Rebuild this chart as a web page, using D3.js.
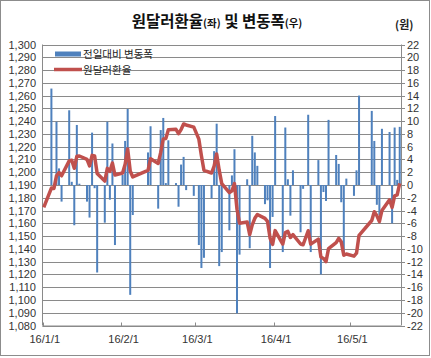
<!DOCTYPE html>
<html><head><meta charset="utf-8">
<script src="https://d3js.org/d3.v7.min.js"></script>
<style>
html,body{margin:0;padding:0;background:#fff;}
svg{display:block;font-family:"Noto Sans CJK KR","Noto Sans",sans-serif;}
.num{font-family:"Liberation Sans",Arial,sans-serif;}
</style></head>
<body><svg id="c" width="431" height="358"></svg>
<script>
const dates = ["2016-01-01","2016-01-04","2016-01-05","2016-01-06","2016-01-07","2016-01-08","2016-01-11","2016-01-12","2016-01-13","2016-01-14","2016-01-15","2016-01-18","2016-01-19","2016-01-20","2016-01-21","2016-01-22","2016-01-25","2016-01-26","2016-01-27","2016-01-28","2016-01-29","2016-02-01","2016-02-02","2016-02-03","2016-02-04","2016-02-05","2016-02-11","2016-02-12","2016-02-15","2016-02-16","2016-02-17","2016-02-18","2016-02-19","2016-02-22","2016-02-23","2016-02-24","2016-02-25","2016-02-26","2016-02-29","2016-03-02","2016-03-03","2016-03-04","2016-03-07","2016-03-08","2016-03-09","2016-03-10","2016-03-11","2016-03-14","2016-03-15","2016-03-16","2016-03-17","2016-03-18","2016-03-21","2016-03-22","2016-03-23","2016-03-24","2016-03-25","2016-03-28","2016-03-29","2016-03-30","2016-03-31","2016-04-01","2016-04-04","2016-04-05","2016-04-06","2016-04-07","2016-04-08","2016-04-11","2016-04-12","2016-04-14","2016-04-15","2016-04-18","2016-04-19","2016-04-20","2016-04-21","2016-04-22","2016-04-25","2016-04-26","2016-04-27","2016-04-28","2016-04-29","2016-05-02","2016-05-03","2016-05-04","2016-05-09","2016-05-10","2016-05-11","2016-05-12","2016-05-13","2016-05-16","2016-05-17","2016-05-18","2016-05-19","2016-05-20"];
const changes = [null,15.1,-0.3,9.9,2.6,-2.6,11.7,0.5,-6.3,9.4,0.2,-2.6,-5.1,8.2,-0.5,-13.7,-5.9,9.9,-2.3,6.5,-9.4,1.6,6.9,11.9,-17.2,-4.7,5.1,9.2,-3.7,8.6,10.5,0.3,7.0,0.3,-3.4,3.2,4.4,-0.8,-1.7,-9.4,-13.0,-11.4,-2.1,5.3,9.6,-12.7,-10.5,-7.1,1.5,5.6,-20.1,-10.9,0.9,-9.9,7.7,5.1,3.0,-3.0,-2.4,-13.0,-5.0,10.8,-10.5,9.0,0.9,-4.8,2.3,-7.4,-0.6,11.0,-10.5,3.9,-14.0,-1.1,-2.5,10.2,4.7,3.3,-2.7,-10.5,1.0,-1.7,2.3,14.0,11.6,6.9,-3.1,-4.7,8.8,8.3,-6.0,9.0,0.8,9.1];
const rates = [1172.5,1187.6,1187.3,1197.2,1199.8,1197.2,1208.9,1209.4,1203.1,1212.5,1212.7,1210.1,1205.0,1213.2,1212.7,1199.0,1193.1,1203.0,1200.7,1207.2,1197.8,1199.4,1206.3,1218.2,1201.0,1196.3,1201.4,1210.6,1206.9,1215.5,1226.0,1226.3,1233.3,1233.6,1230.2,1233.4,1237.8,1237.0,1235.3,1225.9,1212.9,1201.5,1199.4,1204.7,1214.3,1201.6,1191.1,1184.0,1185.5,1191.1,1171.0,1160.1,1161.0,1151.1,1158.8,1163.9,1166.9,1163.9,1161.5,1148.5,1143.5,1154.3,1143.8,1152.8,1153.7,1148.9,1151.2,1143.8,1143.2,1154.2,1143.7,1147.6,1133.6,1132.5,1130.0,1140.2,1144.9,1148.2,1145.5,1135.0,1136.0,1134.3,1136.6,1150.6,1162.2,1169.1,1166.0,1161.3,1170.1,1178.4,1172.4,1181.4,1182.2,1191.3];
const leftTicks = d3.range(1080, 1301, 10);
const rightTicks = d3.range(-22, 23, 2);
const monthTicks = ["2016-01-01","2016-02-01","2016-03-01","2016-04-01","2016-05-01"];
const monthLabels = ["16/1/1","16/2/1","16/3/1","16/4/1","16/5/1"];
const seriesNames = ["전일대비 변동폭","원달러환율"];

const parse = d3.timeParse("%Y-%m-%d");
const DAY = 864e5;
const svg = d3.select("#c");
const L = 42.5, R = 401, T = 44.5, B = 325.5;

svg.append("rect").attr("x",0.5).attr("y",0.5).attr("width",429).attr("height",355)
  .attr("fill","#fff").attr("stroke","#8c8c8c").attr("stroke-width",1);

const x = d3.scaleTime().domain([parse("2016-01-01"), parse("2016-05-21")]).range([L, R]);
const yL = d3.scaleLinear().domain([1080,1300]).range([B, T]);
const yR = d3.scaleLinear().domain([-22,22]).range([B, T]);
const mid = d => new Date(parse(d).getTime() + DAY/2);

// gridlines
svg.append("g").selectAll("line").data(leftTicks).join("line")
  .attr("x1",L).attr("x2",R)
  .attr("y1",d=>Math.round(yL(d))+0.5).attr("y2",d=>Math.round(yL(d))+0.5)
  .attr("stroke","#8a8a8a").attr("stroke-width",1);

// left axis labels
const fmt = d3.format(",");
svg.append("g").selectAll("text").data(leftTicks).join("text")
  .attr("class","num")
  .attr("x",36).attr("y",d=>yL(d)+4)
  .attr("text-anchor","end").attr("font-size",11).attr("fill","#333")
  .text(d=>fmt(d));

// right axis
svg.append("g").selectAll("line").data(rightTicks).join("line")
  .attr("x1",R).attr("x2",R+4)
  .attr("y1",d=>Math.round(yR(d))+0.5).attr("y2",d=>Math.round(yR(d))+0.5)
  .attr("stroke","#8a8a8a");
svg.append("g").selectAll("text").data(rightTicks).join("text")
  .attr("class","num")
  .attr("x",407).attr("y",d=>yR(d)+4)
  .attr("font-size",11).attr("fill","#333")
  .text(d=>d);

// bars
const bw = 2;
svg.append("g").selectAll("rect").data(dates.map((d,i)=>({d, v:changes[i]})).filter(o=>o.v!==null))
  .join("rect")
  .attr("x",o=>x(mid(o.d))-bw/2)
  .attr("width",bw)
  .attr("y",o=>Math.min(yR(o.v),yR(0)))
  .attr("height",o=>Math.abs(yR(o.v)-yR(0)))
  .attr("fill","#4f81bd");

// axes lines
svg.append("line").attr("x1",L).attr("x2",L).attr("y1",T).attr("y2",B).attr("stroke","#8a8a8a");
svg.append("line").attr("x1",R+0.5).attr("x2",R+0.5).attr("y1",T).attr("y2",B).attr("stroke","#8a8a8a");
svg.append("line").attr("x1",L).attr("x2",R).attr("y1",B+0.5).attr("y2",B+0.5).attr("stroke","#8a8a8a");

// x ticks
svg.append("g").selectAll("line").data(monthTicks).join("line")
  .attr("x1",d=>Math.round(x(parse(d)))+0.5).attr("x2",d=>Math.round(x(parse(d)))+0.5)
  .attr("y1",B-3).attr("y2",B+1)
  .attr("stroke","#8a8a8a");
svg.append("g").selectAll("text").data(monthTicks).join("text")
  .attr("class","num")
  .attr("x",d=>x(mid(d))+1).attr("y",343)
  .attr("text-anchor","middle").attr("font-size",11).attr("fill","#333")
  .text((d,i)=>monthLabels[i]);

// line
const line = d3.line().x((d,i)=>x(mid(dates[i]))).y(d=>yL(d));
svg.append("path").attr("d",line(rates)).attr("fill","none")
  .attr("stroke","#c0504d").attr("stroke-width",3.5).attr("stroke-linejoin","round");

// legend
svg.append("rect").attr("x",55).attr("y",51.5).attr("width",26).attr("height",5).attr("fill","#4f81bd");
svg.append("line").attr("x1",54).attr("x2",82).attr("y1",69.5).attr("y2",69.5)
  .attr("stroke","#c0504d").attr("stroke-width",3.5);
svg.append("text").attr("x",83).attr("y",58).attr("font-size",10.5).attr("fill","#222").text(seriesNames[0]);
svg.append("text").attr("x",83).attr("y",74).attr("font-size",10.5).attr("fill","#222").text(seriesNames[1]);

// title
const t = svg.append("text").attr("x",217).attr("y",27).attr("text-anchor","middle")
  .attr("font-weight","bold").attr("fill","#111");
t.append("tspan").attr("font-size",15.5).text("원달러환율");
t.append("tspan").attr("font-size",10.5).text("(좌)");
t.append("tspan").attr("font-size",15.5).text(" 및 변동폭");
t.append("tspan").attr("font-size",10.5).text("(우)");
svg.append("text").attr("x",395).attr("y",29).attr("font-size",11).attr("font-weight","bold").attr("fill","#222").text("(원)");
</script></body></html>
